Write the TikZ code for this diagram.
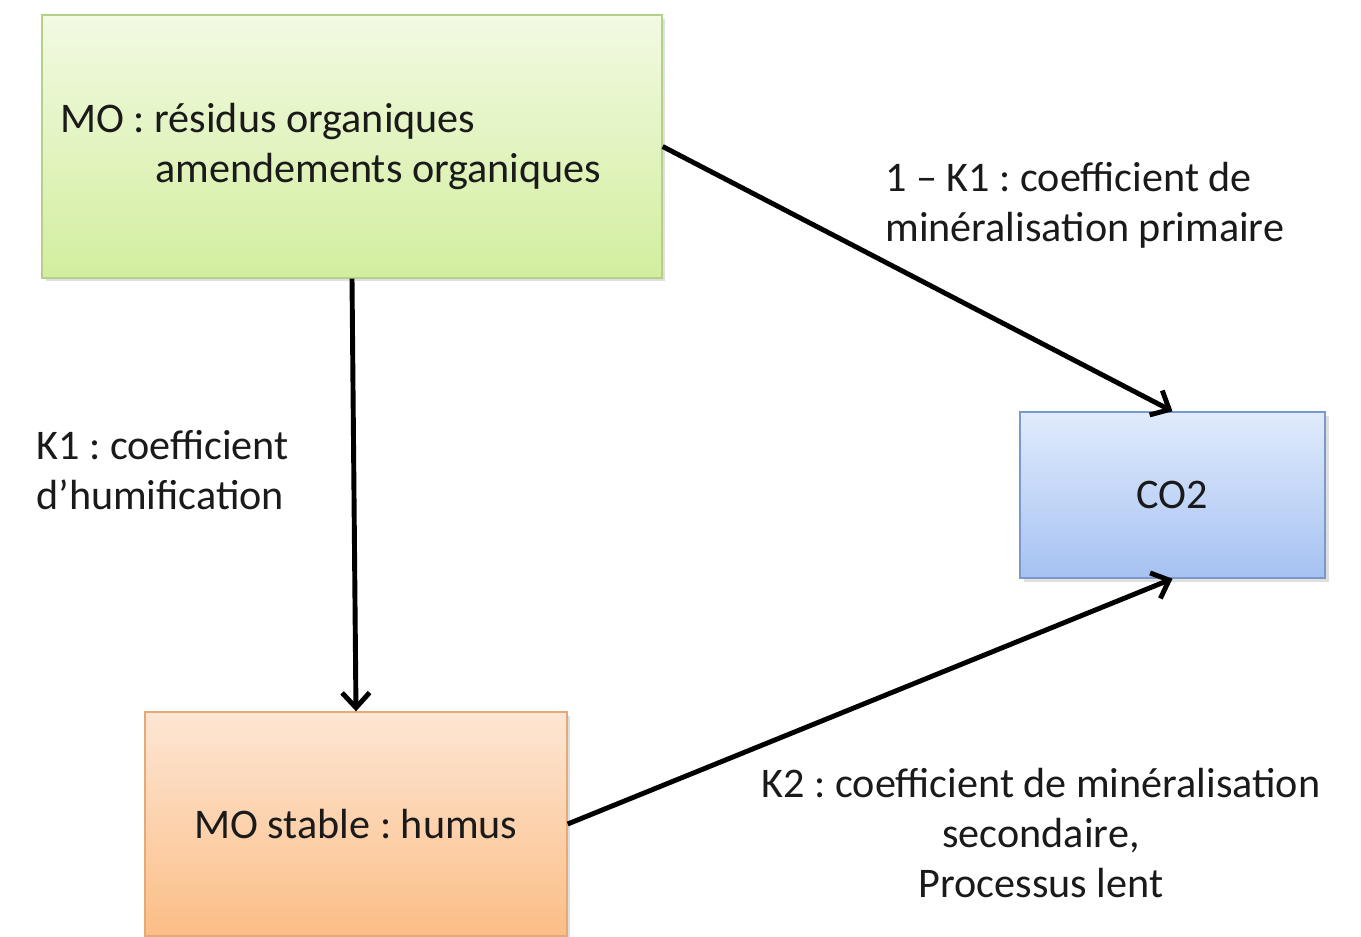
\documentclass[tikz,border=0pt]{standalone}
\usepackage{fontspec}
\setmainfont{Carlito}
\frenchspacing
\usetikzlibrary{arrows.meta,shadows}
\definecolor{gtop}{HTML}{F2FAE2}
\definecolor{gbot}{HTML}{D2EE9E}
\definecolor{gbrd}{HTML}{B4D08A}
\definecolor{btop}{HTML}{E0EBFC}
\definecolor{bbot}{HTML}{A6C2F2}
\definecolor{bbrd}{HTML}{7A98C8}
\definecolor{otop}{HTML}{FDE6D4}
\definecolor{obot}{HTML}{FBBE86}
\definecolor{obrd}{HTML}{E6AA78}
\definecolor{txt}{HTML}{1A1A1A}
\tikzset{
  box/.style={rectangle, line width=0.8pt, inner sep=0pt, text=txt,
    drop shadow={opacity=0.25, shadow xshift=2pt, shadow yshift=-2pt}},
  lbl/.style={text=txt, inner sep=0pt, align=left},
  conn/.style={line width=2.8pt, -{Straight Barb[length=0.3cm,width=0.55cm]}},
}
\begin{document}
\begin{tikzpicture}[x=0.02cm,y=-0.02cm, font=\fontsize{24}{28.45}\selectfont]
\useasboundingbox[fill=white] (0,0) rectangle (1361,936);
\clip (0,0) rectangle (1361,936);
\node[box, draw=gbrd, top color=gtop, bottom color=gbot,
  minimum width=12.4cm, minimum height=5.26cm] (green) at (352,146.5) {};
\node[lbl, anchor=west] (gtext) at (60,146.5)
  {MO : résidus organiques\\\hspace*{1.9cm}amendements organiques};
\node[box, draw=bbrd, top color=btop, bottom color=bbot,
  minimum width=6.1cm, minimum height=3.32cm] (blue) at (1172.5,495) {CO2};
\node[box, draw=obrd, top color=otop, bottom color=obot,
  minimum width=8.44cm, minimum height=4.48cm] (orange) at (356,824) {MO stable : humus};
\draw[conn] (green.south) -- (orange.north);
\draw[conn] (green.east) -- (blue.north);
\draw[conn] (orange.east) -- (blue.south);
\node[lbl, anchor=west] (l1) at (885,205) {1 -- K1 : coefficient de\\minéralisation primaire};
\node[lbl, anchor=west] (l2) at (36,470) {K1 : coefficient\\d’humification};
\node[lbl, align=center] (l3) at (1041,833) {K2 : coefficient de minéralisation\\secondaire,\\Processus lent};
\end{tikzpicture}
\end{document}
